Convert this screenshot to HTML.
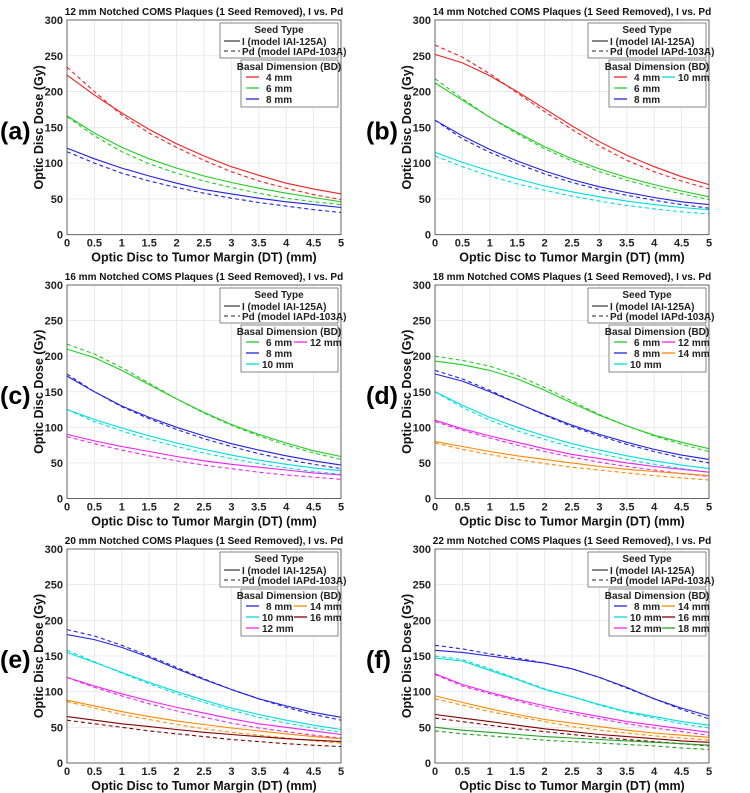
<!DOCTYPE html>
<html><head><meta charset="utf-8">
<style>
body{margin:0;background:#fff;}
svg{display:block;font-family:"Liberation Sans",Arial,sans-serif;}
</style></head>
<body>
<svg id="fig" width="750" height="793" xmlns="http://www.w3.org/2000/svg"></svg>
<script>
const xTicks=[0,0.5,1,1.5,2,2.5,3,3.5,4,4.5,5];
const yTicks=[0,50,100,150,200,250,300];
const panelLetters=["(a)","(b)","(c)","(d)","(e)","(f)"];
const panelSizes=["12","14","16","18","20","22"];
const bdLabels=[["4","6","8"],["4","6","8","10"],["6","8","10","12"],["6","8","10","12","14"],["8","10","12","14","16"],["8","10","12","14","16","18"]];
const bdColors={"4":"#ee2222","6":"#22cc22","8":"#2222dd","10":"#00dddd","12":"#ee22ee","14":"#ff8800","16":"#800000","18":"#22a022"};
const doseI=[
[[223,195,170,147,127,110,95,83,72,64,57],[166,142,122,106,93,82,73,65,58,52,46],[121,106,93,82,72,63,57,51,46,42,38]],
[[252,240,222,200,176,152,130,111,95,81,70],[212,188,164,143,123,106,92,80,70,61,53],[160,138,119,103,89,77,67,59,52,46,42],[115,101,89,78,68,60,53,47,42,38,35]],
[[210,198,180,160,140,121,104,90,78,67,59],[172,150,130,114,100,88,77,68,60,53,47],[125,111,99,88,78,69,61,54,48,43,39],[90,81,73,66,59,53,48,44,40,36,33]],
[[193,188,180,168,152,134,117,102,89,79,70],[175,165,150,134,118,103,90,79,69,61,55],[150,131,114,100,88,77,68,60,53,47,42],[110,98,88,79,70,62,56,50,45,41,37],[80,73,66,60,55,50,45,41,38,35,32]],
[[180,173,162,148,132,117,103,90,80,71,64],[155,141,127,113,100,88,77,68,60,53,47],[120,108,97,87,78,70,62,55,50,45,40],[88,80,72,65,59,54,49,45,41,37,34],[65,60,55,51,47,43,40,37,34,32,30]],
[[158,155,150,145,140,132,120,106,90,77,66],[147,143,130,117,103,93,82,72,65,58,53],[125,110,99,89,80,72,65,58,53,48,43],[94,85,76,68,61,56,51,46,42,39,36],[68,63,58,53,48,44,40,37,34,31,29],[50,46,43,40,37,35,33,31,29,27,25]]
];
const dosePd=[
[[234,200,167,142,122,104,88,75,65,56,49],[165,138,116,99,86,75,66,58,51,46,42],[116,100,86,75,66,58,51,45,40,35,31]],
[[265,248,225,198,172,147,124,104,88,75,64],[218,190,164,141,120,103,88,76,66,57,49],[160,134,115,99,85,73,63,55,48,42,37],[110,95,82,71,62,54,47,41,36,32,29]],
[[217,203,184,162,140,120,103,88,75,64,55],[175,150,129,112,97,84,73,63,55,48,42],[125,108,95,83,73,64,56,49,43,38,34],[87,77,68,60,53,47,42,37,33,30,27]],
[[200,194,186,173,156,137,118,102,88,76,66],[180,168,152,134,117,101,88,76,66,57,50],[150,128,110,95,83,72,63,55,48,42,37],[108,96,85,75,66,58,51,45,40,35,31],[78,69,62,55,49,44,40,36,32,29,26]],
[[187,178,165,150,134,118,103,90,78,68,60],[158,142,126,111,97,85,74,64,56,49,43],[120,106,94,83,73,64,56,49,44,39,35],[86,77,68,61,54,48,43,39,35,31,28],[60,55,50,45,41,37,33,30,27,25,23]],
[[165,160,153,147,140,132,120,105,90,75,62],[150,145,132,118,104,93,81,71,63,55,49],[124,108,97,87,77,69,62,55,49,44,39],[90,81,72,65,58,51,46,42,38,35,32],[63,58,53,48,44,40,36,33,30,27,24],[45,41,38,35,32,30,28,26,24,21,19]]
];
const xs=[0,0.5,1,1.5,2,2.5,3,3.5,4,4.5,5];

const NS="http://www.w3.org/2000/svg";
const fig=document.getElementById('fig');
function mk(tag,attrs,parent,text){const e=document.createElementNS(NS,tag);for(const k in attrs)e.setAttribute(k,attrs[k]);if(text!==undefined)e.textContent=text;(parent||fig).appendChild(e);return e;}

const lefts=[67,435],rows=[[20,234.7],[285,498.5],[549,763]],W=274;
for(let p=0;p<6;p++){
  const L=lefts[p%2],T=rows[Math.floor(p/2)][0],B=rows[Math.floor(p/2)][1],R=L+W;
  const sx=v=>L+v/5*W, sy=v=>B-v/300*(B-T);
  const g=mk('g',{});
  
  
  mk('rect',{x:L,y:T,width:W,height:B-T,fill:'#fff'},g);
  xTicks.forEach(t=>{mk('line',{x1:sx(t),x2:sx(t),y1:T,y2:B,stroke:'#e6e6e6','stroke-width':0.8},g);
    const tl=mk('text',{x:sx(t),y:B+12,'font-size':11,'font-weight':'bold','text-anchor':'middle',fill:'#222'},g,t);
    });
  yTicks.forEach(t=>{mk('line',{x1:L,x2:R,y1:sy(t),y2:sy(t),stroke:'#e6e6e6','stroke-width':0.8},g);
    const tl=mk('text',{x:L-4,y:sy(t)+4,'font-size':11,'font-weight':'bold','text-anchor':'end',fill:'#222'},g,t);
    });
  bdLabels[p].forEach((bd,i)=>{
    [[doseI,null],[dosePd,'4,3']].forEach(([arr,dash])=>{
      const pts=arr[p][i].map((v,j)=>sx(xs[j]).toFixed(1)+','+sy(v).toFixed(1)).join(' ');
      const a={points:pts,fill:'none',stroke:bdColors[bd],'stroke-width':1.1};
      if(dash)a['stroke-dasharray']=dash;
      const pl=mk('polyline',a,g);
      
      
    });
  });
  mk('rect',{x:L,y:T,width:W,height:B-T,fill:'none',stroke:'#444','stroke-width':0.8},g);
  const tt=mk('text',{x:L+W/2,y:T-5,'font-size':10,'font-weight':'bold','text-anchor':'middle',fill:'#111'},g,panelSizes[p]+' mm Notched COMS Plaques (1 Seed Removed), I vs. Pd');
  
  const xl=mk('text',{x:L+W/2,y:B+27,'font-size':12.5,'font-weight':'bold','text-anchor':'middle',fill:'#111'},g,'Optic Disc to Tumor Margin (DT) (mm)');
  
  const yl=mk('text',{x:0,y:0,'font-size':12.5,'font-weight':'bold','text-anchor':'middle',fill:'#111',transform:`translate(${L-24},${(T+B)/2}) rotate(-90)`},g,'Optic Disc Dose (Gy)');
  
  const pl=mk('text',{x:L-67+(p%2?-2:0),y:(T+B)/2+12,'font-size':25,'font-weight':'bold',fill:'#000'},g,panelLetters[p]);
  
  const lg=mk('g',{},g);
  mk('rect',{x:R-121,y:T+3,width:118,height:35,fill:'#fff',stroke:'#555','stroke-width':0.7},lg);
  mk('text',{x:R-62,y:T+13,'font-size':10,'font-weight':'bold','text-anchor':'middle',fill:'#222'},lg,'Seed Type');
  mk('line',{x1:R-117,x2:R-101,y1:T+21,y2:T+21,stroke:'#222','stroke-width':1.1},lg);
  mk('text',{x:R-99,y:T+25,'font-size':10,'font-weight':'bold',fill:'#222'},lg,'I (model IAI-125A)');
  mk('line',{x1:R-117,x2:R-101,y1:T+31,y2:T+31,stroke:'#222','stroke-width':1.1,'stroke-dasharray':'4,3'},lg);
  mk('text',{x:R-99,y:T+35,'font-size':10,'font-weight':'bold',fill:'#222'},lg,'Pd (model IAPd-103A)');
  const bg=mk('g',{},g);
  const bl=R-100;
  mk('rect',{x:bl,y:T+40,width:97,height:47,fill:'#fff',stroke:'#555','stroke-width':0.7},bg);
  mk('text',{x:bl+48,y:T+50,'font-size':10,'font-weight':'bold','text-anchor':'middle',fill:'#222'},bg,'Basal Dimension (BD)');
  bdLabels[p].forEach((bd,i)=>{
    const col=Math.floor(i/3),row=i%3;
    const lx=bl+5+col*48, ly=T+57+row*11;
    mk('line',{x1:lx,x2:lx+13,y1:ly,y2:ly,stroke:bdColors[bd],'stroke-width':1.3},bg);
    const lab=(bd.length<2?bd+'  mm':bd+' mm');
    mk('text',{x:lx+(bd.length<2?20:16),y:ly+4,'font-size':10,'font-weight':'bold',fill:'#222','xml:space':'preserve'},bg,lab);
  });
}
</script>
</body></html>
